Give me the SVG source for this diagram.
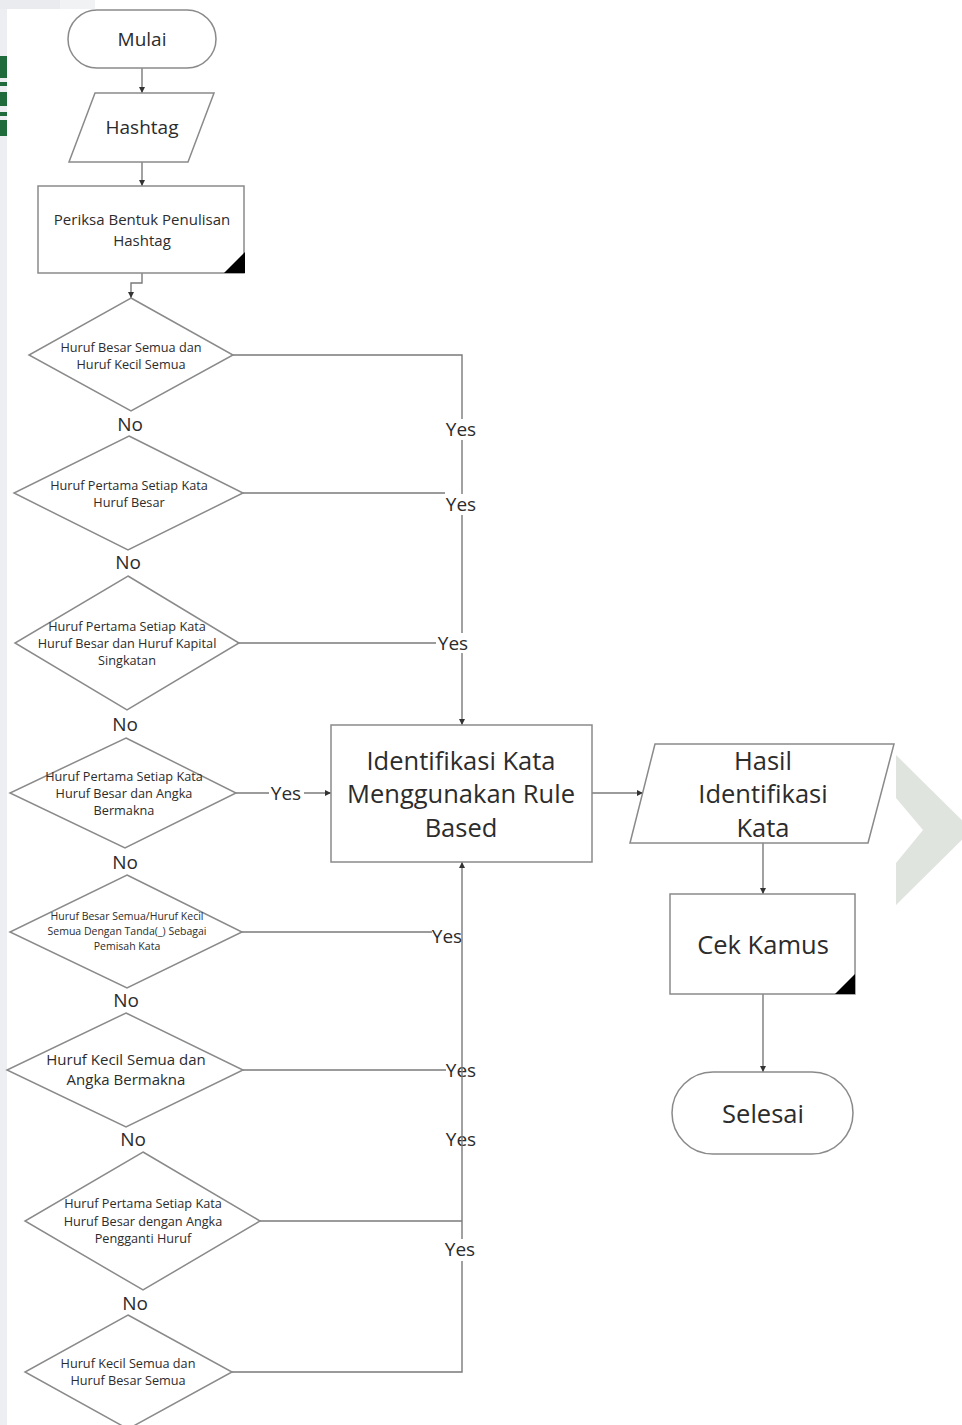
<svg xmlns="http://www.w3.org/2000/svg" width="962" height="1425" viewBox="0 0 962 1425">
<defs>
<marker id="arr" markerUnits="userSpaceOnUse" markerWidth="7" markerHeight="7" refX="6" refY="3.5" orient="auto">
<path d="M0,0.5 L6,3.5 L0,6.5 z" fill="#333"/>
</marker>
<style>
.sh{fill:#fff;stroke:#8a8a8a;stroke-width:1.5}
.ln{fill:none;stroke:#7a7a7a;stroke-width:1.4}
.t{font-family:"Open Sans","Noto Sans","Liberation Sans",sans-serif;fill:#2c2c2c;text-anchor:middle;dominant-baseline:central}
.s12{font-size:12.7px}
.s10{font-size:10.5px}
.s14{font-size:15px}
.s18{font-size:19px}
.s24{font-size:25.5px}
.lab{font-family:"Open Sans","Noto Sans","Liberation Sans",sans-serif;fill:#2c2c2c;font-size:19px;text-anchor:middle;dominant-baseline:central}
.bg{fill:#fff}
</style>
</defs>
<rect width="962" height="1425" fill="#fff"/>
<g id="background">
<rect x="0" y="0" width="7" height="1425" fill="#eceef1"/>
<rect x="0" y="0" width="95" height="9" fill="#e9ebef"/>
<rect x="60" y="0" width="35" height="9" fill="#f1f2f4"/>
<rect x="0" y="56" width="7" height="22" fill="#1f6b3c"/>
<rect x="0" y="82" width="7" height="4" fill="#1f6b3c"/>
<rect x="0" y="92" width="7" height="14" fill="#1f6b3c"/>
<rect x="0" y="112" width="7" height="4" fill="#1f6b3c"/>
<rect x="0" y="120" width="7" height="16" fill="#1f6b3c"/>
<polygon points="896,755 972,830 896,905 896,863 923,830 896,798" fill="#e0e4df"/>
</g>
<g id="labels-under">
<text class="lab" x="447" y="936">Yes</text>
<text class="lab" x="461" y="1070">Yes</text>
<text class="lab" x="461" y="1139">Yes</text>
</g>
<g id="connectors">
<line class="ln" x1="142" y1="68" x2="142" y2="93" marker-end="url(#arr)"/>
<line class="ln" x1="142" y1="162" x2="142" y2="186" marker-end="url(#arr)"/>
<polyline class="ln" points="142,273 142,283 131,283 131,298" marker-end="url(#arr)"/>
<polyline class="ln" points="233,355 462,355 462,725" marker-end="url(#arr)"/>
<line class="ln" x1="243" y1="493" x2="445" y2="493"/>
<line class="ln" x1="239" y1="643" x2="437" y2="643"/>
<line class="ln" x1="236" y1="793" x2="331" y2="793" marker-end="url(#arr)"/>
<line class="ln" x1="242" y1="932" x2="432" y2="932"/>
<line class="ln" x1="243" y1="1070" x2="446" y2="1070"/>
<line class="ln" x1="260" y1="1221" x2="462" y2="1221"/>
<polyline class="ln" points="232,1372 462,1372 462,862" marker-end="url(#arr)"/>
<line class="ln" x1="592" y1="793" x2="643" y2="793" marker-end="url(#arr)"/>
<line class="ln" x1="763" y1="843" x2="763" y2="894" marker-end="url(#arr)"/>
<line class="ln" x1="763" y1="994" x2="763" y2="1072" marker-end="url(#arr)"/>
</g>
<g id="labels">
<rect class="bg" x="444" y="419" width="35" height="21"/>
<text class="lab" x="461" y="429">Yes</text>
<rect class="bg" x="444" y="494" width="35" height="21"/>
<text class="lab" x="461" y="504">Yes</text>
<rect class="bg" x="436" y="633" width="35" height="20"/>
<text class="lab" x="453" y="643">Yes</text>
<rect class="bg" x="269" y="783" width="35" height="20"/>
<text class="lab" x="286" y="793">Yes</text>
<rect class="bg" x="442" y="1239" width="35" height="22"/>
<text class="lab" x="460" y="1249">Yes</text>
<text class="lab" x="130" y="424">No</text>
<text class="lab" x="128" y="562">No</text>
<text class="lab" x="125" y="724">No</text>
<text class="lab" x="125" y="862">No</text>
<text class="lab" x="126" y="1000">No</text>
<text class="lab" x="133" y="1139">No</text>
<text class="lab" x="135" y="1303">No</text>
</g>
<g id="mulai">
<rect class="sh" x="68" y="10" width="148" height="58" rx="29"/>
<text class="t s18" x="142" y="39">Mulai</text>
</g>
<g id="hashtag">
<polygon class="sh" points="95,93 214,93 188,162 69,162"/>
<text class="t s18" x="142" y="127">Hashtag</text>
</g>
<g id="periksa">
<rect class="sh" x="38" y="186" width="206" height="87"/>
<polygon points="224,273 245,273 245,252" fill="#000"/>
<text class="t s14" x="142" y="219">Periksa Bentuk Penulisan</text>
<text class="t s14" x="142" y="240">Hashtag</text>
</g>
<g id="d1">
<polygon class="sh" points="131,298 233,355 131,411 29,355"/>
<text class="t s12" x="131" y="347">Huruf Besar Semua dan</text>
<text class="t s12" x="131" y="364">Huruf Kecil Semua</text>
</g>
<g id="d2">
<polygon class="sh" points="129,436 243,493 128,550 14,493"/>
<text class="t s12" x="129" y="485">Huruf Pertama Setiap Kata</text>
<text class="t s12" x="129" y="502">Huruf Besar</text>
</g>
<g id="d3">
<polygon class="sh" points="128,576 239,643 127,710 15,643"/>
<text class="t s12" x="127" y="626">Huruf Pertama Setiap Kata</text>
<text class="t s12" x="127" y="643">Huruf Besar dan Huruf Kapital</text>
<text class="t s12" x="127" y="660">Singkatan</text>
</g>
<g id="d4">
<polygon class="sh" points="126,738 236,793 125,848 10,793"/>
<text class="t s12" x="124" y="776">Huruf Pertama Setiap Kata</text>
<text class="t s12" x="124" y="793">Huruf Besar dan Angka</text>
<text class="t s12" x="124" y="810">Bermakna</text>
</g>
<g id="d5">
<polygon class="sh" points="127,875 242,932 127,988 10,932"/>
<text class="t s10" x="127" y="916">Huruf Besar Semua/Huruf Kecil</text>
<text class="t s10" x="127" y="931">Semua Dengan Tanda(_) Sebagai</text>
<text class="t s10" x="127" y="946">Pemisah Kata</text>
</g>
<g id="d6">
<polygon class="sh" points="126,1013 243,1070 126,1127 7,1070"/>
<text class="t s14" x="126" y="1059">Huruf Kecil Semua dan</text>
<text class="t s14" x="126" y="1079">Angka Bermakna</text>
</g>
<g id="d7">
<polygon class="sh" points="143,1152 260,1221 143,1290 25,1221"/>
<text class="t s12" x="143" y="1203">Huruf Pertama Setiap Kata</text>
<text class="t s12" x="143" y="1221">Huruf Besar dengan Angka</text>
<text class="t s12" x="143" y="1238">Pengganti Huruf</text>
</g>
<g id="d8">
<polygon class="sh" points="128,1315 232,1372 128,1429 25,1372"/>
<text class="t s12" x="128" y="1363">Huruf Kecil Semua dan</text>
<text class="t s12" x="128" y="1380">Huruf Besar Semua</text>
</g>
<g id="identifikasi">
<rect class="sh" x="331" y="725" width="261" height="137"/>
<text class="t s24" x="461" y="760">Identifikasi Kata</text>
<text class="t s24" x="461" y="793">Menggunakan Rule</text>
<text class="t s24" x="461" y="827">Based</text>
</g>
<g id="hasil">
<polygon class="sh" points="655,744 894,744 868,843 630,843"/>
<text class="t s24" x="763" y="760">Hasil</text>
<text class="t s24" x="763" y="793">Identifikasi</text>
<text class="t s24" x="763" y="827">Kata</text>
</g>
<g id="cekkamus">
<rect class="sh" x="670" y="894" width="185" height="100"/>
<polygon points="835,994 855,994 855,974" fill="#000"/>
<text class="t s24" x="763" y="944">Cek Kamus</text>
</g>
<g id="selesai">
<rect class="sh" x="672" y="1072" width="181" height="82" rx="41"/>
<text class="t s24" x="763" y="1113">Selesai</text>
</g>
</svg>
